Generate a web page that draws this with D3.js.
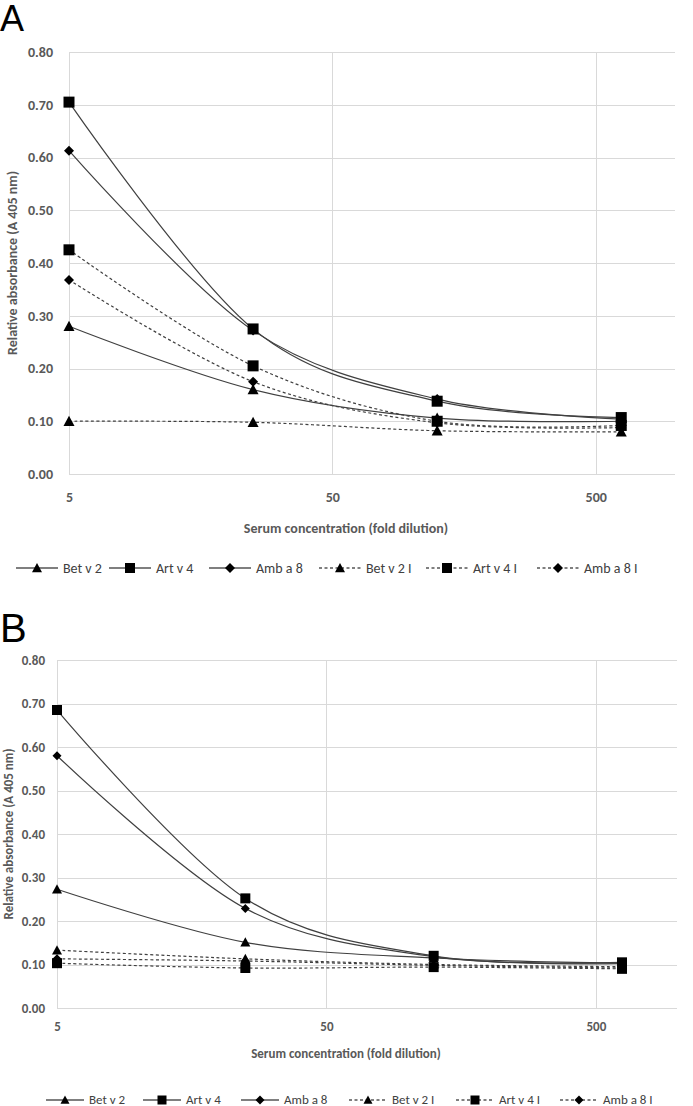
<!DOCTYPE html>
<html>
<head>
<meta charset="utf-8">
<script src="https://cdn.jsdelivr.net/npm/d3@7"></script>
<style>
  html, body { margin: 0; padding: 0; background: #fff; }
  svg { display: block; }
</style>
</head>
<body>
<svg id="chart" width="693" height="1106"></svg>
<script>
// ---- data ----
const dilutions = [5, 25, 125, 625];
const seriesNames = ["Bet v 2", "Art v 4", "Amb a 8", "Bet v 2 I", "Art v 4 I", "Amb a 8 I"];
const seriesShapes = ["triangle", "square", "diamond", "triangle", "square", "diamond"];
const seriesDashed = [false, false, false, true, true, true];

const panelA_BetV2   = [0.280, 0.160, 0.106, 0.100];
const panelA_ArtV4   = [0.705, 0.275, 0.138, 0.107];
const panelA_AmbA8   = [0.613, 0.272, 0.142, 0.104];
const panelA_BetV2I  = [0.100, 0.098, 0.082, 0.080];
const panelA_ArtV4I  = [0.425, 0.205, 0.100, 0.092];
const panelA_AmbA8I  = [0.368, 0.175, 0.097, 0.088];

const panelB_BetV2   = [0.273, 0.151, 0.115, 0.103];
const panelB_ArtV4   = [0.685, 0.252, 0.120, 0.105];
const panelB_AmbA8   = [0.580, 0.229, 0.118, 0.102];
const panelB_BetV2I  = [0.133, 0.113, 0.100, 0.095];
const panelB_ArtV4I  = [0.103, 0.092, 0.094, 0.090];
const panelB_AmbA8I  = [0.113, 0.108, 0.098, 0.092];

const yTicks = [0, 0.1, 0.2, 0.3, 0.4, 0.5, 0.6, 0.7, 0.8];
const xTicks = [5, 50, 500];
const xDomain = [5, 1000];
const yDomain = [0, 0.8];
const yLabel = "Relative absorbance (A 405 nm)";
const xLabel = "Serum concentration (fold dilution)";

// ---- drawing ----
const svg = d3.select("#chart");
const FONT = "Carlito, Lato, 'Open Sans', sans-serif";
const LINE = "#404040";
const GRID = "#d9d9d9";
const TXT = "#595959";

function markerPath(shape, s) {
  const h = s / 2;
  if (shape === "triangle") return `M0,${-h}L${h},${h * 0.85}L${-h},${h * 0.85}Z`;
  if (shape === "square") return `M${-h},${-h}H${h}V${h}H${-h}Z`;
  return `M0,${-h}L${h},0L0,${h}L${-h},0Z`;
}

function drawPanel(cfg) {
  const g = svg.append("g");
  const x = d3.scaleLog().domain(xDomain).range([cfg.left, cfg.right]);
  const y = d3.scaleLinear().domain(yDomain).range([cfg.bottom, cfg.top]);

  // panel letter
  g.append("text").attr("x", cfg.letterX).attr("y", cfg.letterY)
    .attr("font-family", "'Liberation Sans', Arial, sans-serif")
    .attr("font-size", cfg.letterFs).attr("fill", "#000").text(cfg.letter);

  // horizontal grid
  g.selectAll(".hg").data(yTicks).join("line")
    .attr("x1", cfg.left).attr("x2", cfg.right)
    .attr("y1", d => Math.round(y(d)) + 0.5).attr("y2", d => Math.round(y(d)) + 0.5)
    .attr("stroke", GRID).attr("stroke-width", 1);
  // vertical grid
  g.selectAll(".vg").data(xTicks).join("line")
    .attr("x1", d => Math.round(x(d)) + 0.5).attr("x2", d => Math.round(x(d)) + 0.5)
    .attr("y1", cfg.top).attr("y2", cfg.bottom)
    .attr("stroke", GRID).attr("stroke-width", 1);

  // y tick labels via axis
  const yAxis = d3.axisLeft(y).tickValues(yTicks).tickFormat(d3.format(".2f")).tickSize(0).tickPadding(cfg.yPad);
  const ya = g.append("g").attr("transform", `translate(${cfg.left},0)`).call(yAxis);
  ya.select(".domain").remove();
  ya.selectAll("text").attr("font-family", FONT).attr("font-size", cfg.fs)
    .attr("font-weight", "bold").attr("fill", TXT);

  // x tick labels via axis
  const xAxis = d3.axisBottom(x).tickValues(xTicks).tickFormat(d3.format("d")).tickSize(0).tickPadding(cfg.xPad);
  const xa = g.append("g").attr("transform", `translate(0,${cfg.bottom})`).call(xAxis);
  xa.select(".domain").remove();
  xa.selectAll("text").attr("font-family", FONT).attr("font-size", cfg.fs)
    .attr("font-weight", "bold").attr("fill", TXT);

  // axis titles
  g.append("text").attr("transform", `translate(${cfg.yTitleX},${(cfg.top + cfg.bottom) / 2}) rotate(-90)`)
    .attr("text-anchor", "middle").attr("font-family", FONT).attr("font-size", cfg.fs)
    .attr("font-weight", "bold").attr("fill", TXT).text(yLabel);
  g.append("text").attr("x", 346).attr("y", cfg.xTitleY)
    .attr("text-anchor", "middle").attr("font-family", FONT).attr("font-size", cfg.fs)
    .attr("font-weight", "bold").attr("fill", TXT).text(xLabel);

  // series lines
  const line = d3.line().x(d => x(d[0])).y(d => y(d[1])).curve(d3.curveCatmullRom.alpha(0));
  cfg.series.forEach((vals, i) => {
    const pts = dilutions.map((dl, k) => [dl, vals[k]]);
    g.append("path").attr("d", line(pts)).attr("fill", "none")
      .attr("stroke", LINE).attr("stroke-width", 1.2)
      .attr("stroke-dasharray", seriesDashed[i] ? "3,2.5" : null);
  });
  // markers (drawn after all lines)
  cfg.series.forEach((vals, i) => {
    g.selectAll(null).data(dilutions.map((dl, k) => [dl, vals[k]])).join("path")
      .attr("transform", d => `translate(${x(d[0])},${y(d[1])})`)
      .attr("d", markerPath(seriesShapes[i], seriesShapes[i] === "diamond" ? cfg.ms - 1 : cfg.ms))
      .attr("fill", "#000");
  });

  // legend
  seriesNames.forEach((name, i) => {
    const mx = cfg.legendX[i], ly = cfg.legendY;
    g.append("line").attr("x1", mx - cfg.legHalf).attr("x2", mx + cfg.legHalf)
      .attr("y1", ly).attr("y2", ly).attr("stroke", "#000").attr("stroke-width", 1.2)
      .attr("stroke-dasharray", seriesDashed[i] ? "3,2.5" : null);
    g.append("path").attr("transform", `translate(${mx},${ly})`)
      .attr("d", markerPath(seriesShapes[i], cfg.legMs)).attr("fill", "#000");
    g.append("text").attr("x", mx + cfg.legHalf + 5).attr("y", ly + cfg.fs * 0.33)
      .attr("font-family", FONT).attr("font-size", cfg.fs)
      .attr("fill", "#404040").text(name);
  });
}

drawPanel({
  letter: "A", letterX: 0, letterY: 31, letterFs: 36,
  left: 69, right: 675, top: 52, bottom: 474,
  fs: 14, yPad: 16, xPad: 18, yTitleX: 17, xTitleY: 533,
  ms: 11, legMs: 10, legHalf: 21, legendY: 568,
  legendX: [37, 130, 230, 340, 447, 558],
  series: [panelA_BetV2, panelA_ArtV4, panelA_AmbA8, panelA_BetV2I, panelA_ArtV4I, panelA_AmbA8I]
});

drawPanel({
  letter: "B", letterX: 0, letterY: 642, letterFs: 40,
  left: 57, right: 677, top: 660, bottom: 1008,
  fs: 13, yPad: 12, xPad: 14, yTitleX: 13, xTitleY: 1058,
  ms: 10, legMs: 9, legHalf: 19, legendY: 1100,
  legendX: [65, 162, 260, 368, 475, 579],
  series: [panelB_BetV2, panelB_ArtV4, panelB_AmbA8, panelB_BetV2I, panelB_ArtV4I, panelB_AmbA8I]
});
</script>
</body>
</html>
